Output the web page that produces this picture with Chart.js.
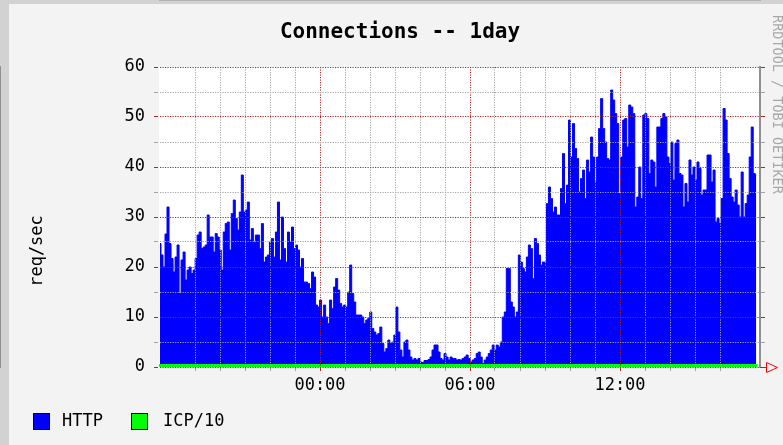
<!DOCTYPE html>
<html>
<head>
<meta charset="utf-8">
<title>Connections -- 1day</title>
<script src="https://cdn.jsdelivr.net/npm/chart.js@4.4.1/dist/chart.umd.min.js"></script>
<style>
  html, body { margin: 0; padding: 0; background: #f3f3f3; }
  #wrap { width: 783px; height: 445px; }
</style>
</head>
<body>
<div id="wrap"><canvas id="chart" width="783" height="445"></canvas></div>
<script>
// Samples, roughly every 5 minutes,
// time in hours relative to midnight (first sample ~17:36 the day before)
const startHour = -6.40;
const stepHours = 0.0803;

const httpValues = [
    24.7, 22.4, 20, 26.6, 32, 24.7, 21.7, 19, 22, 24.4, 14.7, 21.4, 23, 17.4, 19.4, 20, 18.7, 19.4, 21.7, 26.4,
    27, 23.7, 24, 24.4, 30.4, 26, 26, 23, 26.7, 26, 23.4, 19.4, 27, 28.7, 29, 23.4, 30.7, 33.4, 29.7, 27.4,
    31, 38.4, 31, 31.4, 33, 25.4, 27.7, 25, 26.4, 26.4, 23.7, 28.7, 21, 22, 22.4, 25, 25.7, 22, 27,
    33, 21.4, 30, 23.7, 21, 27, 25, 28, 23.7, 24.4, 23.4, 20, 21.7, 17, 17, 16.7, 15.7, 19, 18, 12.4,
    12, 13.4, 10, 12.4, 10, 8.7, 13.4, 11.7, 16, 17.7, 15.4, 12.7, 12, 12.4, 12, 15, 20.4, 14.7, 13, 10.4,
    10.4, 10.4, 10, 8.7, 9.4, 9.7, 11, 7.7, 7, 6.4, 6.7, 8, 4.7, 3, 3.7, 5.4, 4.7, 5, 6.4, 12,
    7, 3.4, 2, 5, 5.4, 3.4, 2, 1.4, 1.7, 1.4, 1.7, 1, 0.9, 1.3, 1.3, 1.5, 2, 3.4, 4.4, 4.4,
    3, 1.7, 1.4, 2.7, 2, 1.4, 2, 1.7, 1.7, 1.4, 1.5, 1.4, 1.7, 2, 2.4, 1.7, 1, 1.4, 1.7, 2.7,
    3, 2, 0.7, 1.4, 2, 2.7, 3.4, 4.4, 3.4, 4.4, 4, 5, 10, 11,
    19.7, 19.7, 13, 12, 10, 11, 22.4, 21, 19.7, 19, 22, 24.4, 23.7, 17.7, 25.7, 24.7, 22.4, 20.4, 21, 21,
    32.7, 36, 33.7, 31, 32, 30.4, 30.4, 35.7, 42.7, 32.7, 36.4, 49.4, 42, 48.7, 43.7, 41.7, 35, 37.7, 39.4, 33.7,
    41.4, 39, 46, 42, 37, 42, 47.7, 53.7, 47.7, 45, 41.7, 41.4, 55.4, 53.4, 50.7, 48.7, 34.7, 42, 49.4, 49.7,
    44, 52.4, 52, 50.7,
    32, 34, 40, 33.7, 50.4, 50.7, 49.7, 38.7, 41.4, 41, 36, 48, 48, 49.7, 50.7, 50, 42, 40.7, 45, 37.4,
    44.7, 45.4, 38.7, 38.4, 32, 36.7, 33, 41.4, 38.4, 40, 37.4, 41, 39.7, 34.4, 35.4, 35.4, 42.4, 42.4, 37, 39.4,
    29, 29.7, 28.7, 33.7, 51.7, 49.4, 42.7, 37.7, 34, 33, 35.4, 32.4, 30, 39, 30, 32.7, 34.4, 42, 48, 38.7,
    38.4
];

// ICP/10 stays just above zero all day
const icpHours = [-6.44, -3, 0, 3, 6, 9, 12, 15, 17.5];
const icpValues = [0.5, 0.5, 0.5, 0.5, 0.5, 0.5, 0.5, 0.5, 0.5];

const xLabelHours = [0, 6, 12];
const xLabels = ['00:00', '06:00', '12:00'];

const RED = '#ac2626';
const GRAY = '#a4a4a4';
const AXIS = '#909090';
const MONO = '"DejaVu Sans Mono", "Liberation Mono", monospace';

const httpPoints = httpValues.map((v, i) => ({ x: startHour + i * stepHours, y: v }));
const icpPoints = icpValues.map((v, i) => ({ x: icpHours[i], y: v }));

function isWhole(v) {
    return Math.abs(v - Math.round(v)) < 1e-6;
}

function keepWholeTicks(scale) {
    scale.ticks = scale.ticks.filter(t => isWhole(t.value));
}

const rrdFrame = {
    id: 'rrdFrame',
    beforeDraw(chart) {
        const { ctx, chartArea: a, width, height } = chart;
        ctx.save();
        ctx.fillStyle = '#f3f3f3';
        ctx.fillRect(0, 0, width, height);
        // shaded edge, top and left
        ctx.fillStyle = '#d2d2d2';
        ctx.fillRect(0, 0, width, 4);
        ctx.fillRect(0, 0, 9, height);
        ctx.fillStyle = '#ffffff';
        ctx.fillRect(a.left, a.top, a.right - a.left, a.bottom - a.top);
        ctx.restore();
    },
    afterDraw(chart) {
        const { ctx, chartArea: a } = chart;
        ctx.save();

        // Title
        ctx.fillStyle = '#000';
        ctx.font = 'bold 21px ' + MONO;
        ctx.textAlign = 'center';
        ctx.textBaseline = 'middle';
        ctx.fillText('Connections -- 1day', 400, 33);

        // Vertical axis label
        ctx.save();
        ctx.translate(38, 251);
        ctx.rotate(-Math.PI / 2);
        ctx.font = '17px ' + MONO;
        ctx.fillText('req/sec', 0, 0);
        ctx.restore();

        // Credit on the right edge
        ctx.save();
        ctx.translate(776, 15);
        ctx.rotate(Math.PI / 2);
        ctx.font = '13.5px ' + MONO;
        ctx.fillStyle = '#a8a8a8';
        ctx.textAlign = 'left';
        ctx.fillText('RRDTOOL / TOBI OETIKER', 0, 0);
        ctx.restore();

        // x axis line with arrow
        const y0 = Math.round(a.bottom) + 0.5;
        ctx.strokeStyle = RED;
        ctx.lineWidth = 1;
        ctx.beginPath();
        ctx.moveTo(a.right, y0);
        ctx.lineTo(766, y0);
        ctx.stroke();
        ctx.strokeStyle = '#ff0000';
        ctx.beginPath();
        ctx.moveTo(766.5, y0 - 5);
        ctx.lineTo(777.5, y0);
        ctx.lineTo(766.5, y0 + 5);
        ctx.closePath();
        ctx.stroke();

        // Legend
        const items = [
            { label: 'HTTP', color: chart.data.datasets[0].backgroundColor, box: 33, text: 62 },
            { label: 'ICP/10', color: chart.data.datasets[1].backgroundColor, box: 131, text: 163 }
        ];
        ctx.font = '17px ' + MONO;
        ctx.textAlign = 'left';
        items.forEach(it => {
            ctx.fillStyle = it.color;
            ctx.fillRect(it.box + 0.5, 413.5, 16, 16);
            ctx.strokeStyle = '#000';
            ctx.strokeRect(it.box + 0.5, 413.5, 16, 16);
            ctx.fillStyle = '#000';
            ctx.fillText(it.label, it.text, 422);
        });

        ctx.restore();
    }
};

const ctx = document.getElementById('chart');

new Chart(ctx, {
    type: 'line',
    data: {
        datasets: [
            {
                label: 'HTTP',
                data: httpPoints,
                stepped: 'middle',
                fill: 'origin',
                backgroundColor: '#0000ff',
                borderColor: '#0000ff',
                borderWidth: 1,
                pointRadius: 0,
                order: 2
            },
            {
                label: 'ICP/10',
                data: icpPoints,
                fill: 'origin',
                backgroundColor: '#00ff00',
                borderColor: '#00ff00',
                borderWidth: 1,
                pointRadius: 0,
                order: 1
            }
        ]
    },
    options: {
        responsive: false,
        animation: false,
        devicePixelRatio: 1,
        layout: { padding: { top: 67, left: 0, right: 0, bottom: 0 } },
        plugins: {
            legend: { display: false },
            title: { display: false },
            tooltip: { enabled: false }
        },
        scales: {
            x: {
                type: 'linear',
                min: -6.44,
                max: 17.6,
                afterFit: s => { s.height = 78; },
                afterBuildTicks: keepWholeTicks,
                ticks: {
                    stepSize: 1,
                    maxTicksLimit: 100,
                    autoSkip: false,
                    maxRotation: 0,
                    padding: 4,
                    color: '#000',
                    font: { family: MONO, size: 17 },
                    callback: v => {
                        const i = xLabelHours.indexOf(v);
                        return i >= 0 ? xLabels[i] : '';
                    }
                },
                grid: {
                    z: 1,
                    lineWidth: 1,
                    color: c => (c.tick && c.tick.value % 6 === 0) ? RED : GRAY,
                    tickColor: c => (c.tick && c.tick.value % 6 === 0) ? RED : GRAY,
                    tickLength: 4
                },
                border: { color: AXIS, dash: [1.2, 1.3] }
            },
            y: {
                position: 'left',
                min: 0,
                max: 60,
                afterFit: s => { s.width = 159; },
                ticks: {
                    stepSize: 5,
                    maxTicksLimit: 100,
                    autoSkip: false,
                    padding: 9,
                    color: '#000',
                    font: { family: MONO, size: 17 },
                    callback: v => (v % 10 === 0 ? String(v) : '')
                },
                grid: {
                    z: 1,
                    lineWidth: 1,
                    color: c => (c.tick && c.tick.value % 10 === 0) ? RED : GRAY,
                    tickColor: c => (c.tick && c.tick.value % 10 === 0) ? RED : GRAY,
                    tickLength: 5
                },
                border: { color: AXIS, width: 2, dash: [1.2, 1.3] }
            },
            y2: {
                position: 'right',
                min: 0,
                max: 60,
                afterFit: s => { s.width = 23; },
                ticks: { stepSize: 5, maxTicksLimit: 100, autoSkip: false, display: false },
                grid: {
                    drawOnChartArea: false,
                    tickColor: c => (c.tick && c.tick.value % 10 === 0) ? RED : GRAY,
                    tickLength: 5
                },
                border: { color: AXIS, width: 2 }
            }
        }
    },
    plugins: [rrdFrame]
});
</script>
</body>
</html>
